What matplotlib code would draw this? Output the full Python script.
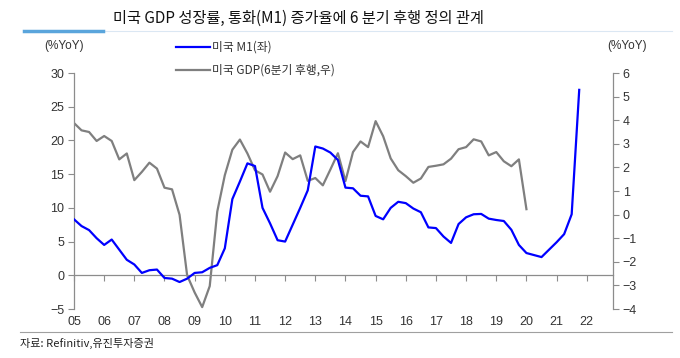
import matplotlib
matplotlib.use("Agg")
import matplotlib.pyplot as plt
from matplotlib.lines import Line2D
import matplotlib.transforms as mtransforms
import numpy as np

plt.rcParams['font.family'] = ['Liberation Sans', 'Noto Sans CJK KR', 'DejaVu Sans']
plt.rcParams['axes.unicode_minus'] = True

# ---- data (quarterly, starting 2005Q1) ----
start_year = 2005
m1 = [8.3, 7.3, 6.7, 5.5, 4.5, 5.3, 3.8, 2.3,
      1.6, 0.35, 0.75, 0.85, -0.4, -0.5, -1.0, -0.5,
      0.35, 0.45, 1.1, 1.5, 4.0, 11.3, 13.9, 16.6,
      16.2, 10.0, 7.7, 5.2, 5.0, 7.5, 10.0, 12.6,
      19.1, 18.8, 18.2, 17.1, 13.0, 12.9, 11.8, 11.7,
      8.8, 8.3, 10.0, 10.9, 10.7, 9.9, 9.35, 7.1,
      7.0, 5.75, 4.8, 7.6, 8.6, 9.05, 9.1, 8.4,
      8.2, 8.05, 6.75, 4.5, 3.3, 3.0, 2.7, 3.8,
      4.9, 6.1, 9.05, 27.5]
gdp_lag6 = [3.88, 3.57, 3.5, 3.12, 3.33, 3.12, 2.34, 2.59,
            1.46, 1.81, 2.2, 1.95, 1.14, 1.07, -0.01, -2.57,
            -3.3, -3.92, -3.03, 0.13, 1.67, 2.75, 3.18, 2.59,
            1.88, 1.70, 0.97, 1.63, 2.63, 2.35, 2.51, 1.43,
            1.55, 1.24, 1.91, 2.6, 1.42, 2.65, 3.1, 2.86,
            3.96, 3.32, 2.38, 1.88, 1.63, 1.35, 1.53, 2.02,
            2.07, 2.13, 2.37, 2.77, 2.86, 3.19, 3.1, 2.51,
            2.65, 2.26, 2.05, 2.34, 0.23]
year_ticks = list(range(2005, 2023))
year_labels = ['05', '06', '07', '08', '09', '10', '11', '12', '13', '14',
               '15', '16', '17', '18', '19', '20', '21', '22']
left_ticks = [-5, 0, 5, 10, 15, 20, 25, 30]
right_ticks = [-4, -3, -2, -1, 0, 1, 2, 3, 4, 5, 6]

title = '미국 GDP 성장률, 통화(M1) 증가율에 6 분기 후행 정의 관계'
label_m1 = '미국 M1(좌)'
label_gdp = '미국 GDP(6분기 후행,우)'
source = '자료: Refinitiv,유진투자증권'

x_m1 = start_year + np.arange(len(m1)) / 4.0
x_gdp = start_year + np.arange(len(gdp_lag6)) / 4.0

W, H = 680, 358
fig = plt.figure(figsize=(W / 100, H / 100), dpi=100)

def fx(px):
    return px / W

def fy(py):
    return 1 - py / H

ax = fig.add_axes([fx(74), fy(309), fx(613) - fx(74), fy(73) - fy(309)])
ax2 = ax.twinx()

axis_color = '#8c8c8c'
text_color = '#333333'

ax.plot(x_m1, m1, color='#0000ff', lw=1.6, zorder=3, label=label_m1)
ax2.plot(x_gdp, gdp_lag6, color='#7f7f7f', lw=1.6, zorder=2, label=label_gdp)
ax.set_zorder(ax2.get_zorder() + 1)
ax.patch.set_visible(False)

ax.set_xlim(2005, 2022.87)
ax.set_ylim(-5, 30)
ax2.set_ylim(-4, 6)
ax.set_yticks(left_ticks)
ax2.set_yticks(right_ticks)

for a in (ax, ax2):
    a.spines['top'].set_visible(False)
    for s in a.spines.values():
        s.set_color(axis_color)
        s.set_linewidth(0.9)
ax.spines['right'].set_visible(False)
ax2.spines['left'].set_visible(False)
ax2.spines['bottom'].set_visible(False)
ax.spines['bottom'].set_position(('data', 0))

ax.tick_params(axis='y', direction='out', length=4, width=0.8, color=axis_color,
               labelsize=9, labelcolor=text_color, pad=3)
ax2.tick_params(axis='y', direction='out', length=4, width=0.8, color=axis_color,
                labelsize=9, labelcolor=text_color, pad=3)
ax.set_xticks(year_ticks)
ax.tick_params(axis='x', direction='out', length=4, width=0.8, color=axis_color,
               labelbottom=False)
ax2.tick_params(axis='x', which='both', bottom=False, top=False, labelbottom=False)

trans = mtransforms.blended_transform_factory(ax.transData, fig.transFigure)
for yr, lab in zip(year_ticks, year_labels):
    ax.text(yr, fy(322), lab, transform=trans, ha='center', va='center',
            fontsize=9, color=text_color)

# axis unit labels
fig.text(fx(64), fy(46), '(%YoY)', ha='center', va='center', fontsize=8.5, color=text_color)
fig.text(fx(627), fy(46), '(%YoY)', ha='center', va='center', fontsize=8.5, color=text_color)

# title and decoration
fig.text(fx(113), fy(18), title, ha='left', va='center', fontsize=11, weight='medium',
         color='#111111', family=['Noto Sans CJK KR', 'DejaVu Sans'])
fig.add_artist(Line2D([fx(24), fx(672)], [fy(31), fy(31)], color='#dbe7f3', lw=0.8))
fig.add_artist(Line2D([fx(24), fx(103)], [fy(31), fy(31)], color='#5aa5dc', lw=2.5))

# legend
leg_font = ['Noto Sans CJK KR', 'DejaVu Sans']
for py, col, lab in [(47, '#0000ff', label_m1), (70, '#7f7f7f', label_gdp)]:
    fig.add_artist(Line2D([fx(176), fx(210)], [fy(py), fy(py)], color=col, lw=1.6))
    fig.text(fx(212), fy(py), lab, ha='left', va='center', fontsize=8.5,
             color=text_color, family=leg_font)

# source
fig.add_artist(Line2D([fx(20), fx(672)], [fy(332), fy(332)], color='#a0a0a0', lw=0.8))
fig.text(fx(20), fy(343), source, ha='left', va='center', fontsize=8,
         color='#222222', family=leg_font)

fig.savefig('out.png', dpi=100)
